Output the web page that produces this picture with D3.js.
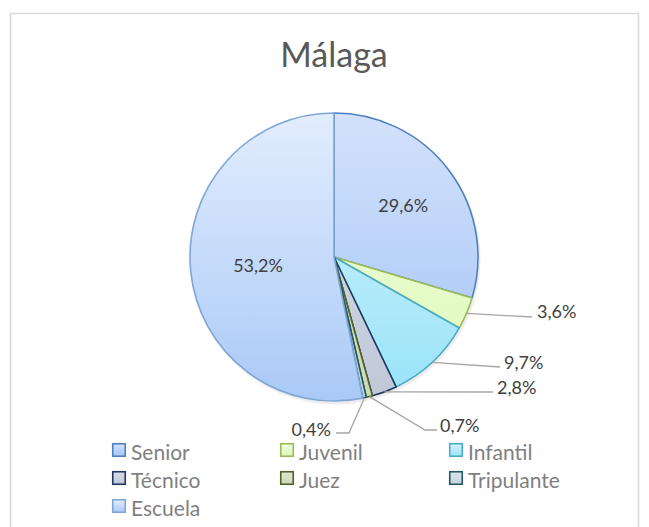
<!DOCTYPE html>
<html><head><meta charset="utf-8">
<script src="https://cdn.jsdelivr.net/npm/d3@7"></script>
<style>body{margin:0;background:#fff}svg{display:block}</style>
</head><body>
<svg id="c" width="649" height="527"></svg>
<script>
const title = "Málaga";
const categories = ["Senior","Juvenil","Infantil","Técnico","Juez","Tripulante","Escuela"];
const values = [29.6, 3.6, 9.7, 2.8, 0.7, 0.4, 53.2];
const labels = ["29,6%","3,6%","9,7%","2,8%","0,7%","0,4%","53,2%"];

const fillTop = ["#d3e2fb","#f2ffe2","#d8f4fd","#d9dee8","#e0e6d0","#d9e6ea","#e2edfd"];
const fillBot = ["#a4c3f7","#ddf8b8","#98e3f8","#c0c8d8","#cfd8b5","#c4d6dc","#aac9f7"];
const strokes = ["#4f81bd","#9bbb59","#4bacc6","#1f3864","#4f6228","#215968","#7ea6d6"];

const svg = d3.select("#c");
const cx = 334, cy = 257, R = 144;

svg.append("rect").attr("x",10.5).attr("y",13.5).attr("width",628).attr("height",530)
  .attr("fill","#fff").attr("stroke","#d9d9d9").attr("stroke-width",1.5);

svg.append("text").attr("x",cx).attr("y",67).attr("text-anchor","middle")
  .attr("font-family","Lato, 'Open Sans', sans-serif").attr("font-size",34)
  .attr("fill","#595959").text(title);

const defs = svg.append("defs");
categories.forEach((c,i)=>{
  const g = defs.append("linearGradient").attr("id","g"+i)
    .attr("gradientUnits","userSpaceOnUse")
    .attr("x1",0).attr("y1",-R).attr("x2",0).attr("y2",R);
  g.append("stop").attr("offset","0%").attr("stop-color",fillTop[i]);
  g.append("stop").attr("offset","100%").attr("stop-color",fillBot[i]);
  const l = defs.append("linearGradient").attr("id","l"+i)
    .attr("x1",0).attr("y1",0).attr("x2",0).attr("y2",1);
  l.append("stop").attr("offset","0%").attr("stop-color",fillTop[i]);
  l.append("stop").attr("offset","100%").attr("stop-color",fillBot[i]);
});

const pie = d3.pie().sort(null).value(d=>d)(values);
const arc = d3.arc().innerRadius(0).outerRadius(R);
const gp = svg.append("g").attr("transform",`translate(${cx},${cy})`);

gp.append("circle").attr("r",R+1).attr("cx",1.5).attr("cy",2.5).attr("fill","#000").attr("opacity",0.07);

gp.selectAll("path.s").data(pie).join("path").attr("class","s")
  .attr("d",arc).attr("fill",(d,i)=>`url(#g${i})`)
  .attr("stroke",(d,i)=>strokes[i]).attr("stroke-width",1.6).attr("stroke-linejoin","round");

const lblFont = "Lato, 'Open Sans', sans-serif";
const lblSize = 18;
const inside = {0:0.6, 6:0.53};
const outside = {
  1:{elbow:[532,317], end:[532,317], tx:537, ty:311, anchor:"start"},
  2:{elbow:[500,367], end:[500,367], tx:504, ty:362, anchor:"start"},
  3:{elbow:[493,392], end:[493,392], tx:497, ty:387, anchor:"start"},
  4:{elbow:[425,430], end:[437,430], tx:440, ty:425, anchor:"start"},
  5:{elbow:[349,433], end:[336,433], tx:331, ty:429, anchor:"end"}
};
pie.forEach((d,i)=>{
  const a = (d.startAngle+d.endAngle)/2;
  if (inside[i]!==undefined){
    const r = R*inside[i];
    svg.append("text").attr("x",cx+r*Math.sin(a)).attr("y",cy-r*Math.cos(a))
      .attr("text-anchor","middle").attr("dominant-baseline","central")
      .attr("font-family",lblFont).attr("font-size",lblSize).attr("fill","#404040").text(labels[i]);
  } else {
    const o = outside[i];
    const sx = cx+R*Math.sin(a), sy = cy-R*Math.cos(a);
    svg.append("polyline").attr("points",`${sx},${sy} ${o.elbow[0]},${o.elbow[1]} ${o.end[0]},${o.end[1]}`)
      .attr("fill","none").attr("stroke","#a6a6a6").attr("stroke-width",1.3);
    svg.append("text").attr("x",o.tx).attr("y",o.ty).attr("text-anchor",o.anchor)
      .attr("dominant-baseline","central")
      .attr("font-family",lblFont).attr("font-size",lblSize).attr("fill","#404040").text(labels[i]);
  }
});

const colX = [112,280,449], rowY = [450,478,506];
categories.forEach((c,i)=>{
  const x = colX[i%3], y = rowY[Math.floor(i/3)];
  svg.append("rect").attr("x",x+0.75).attr("y",y-6.25).attr("width",12.5).attr("height",12.5)
    .attr("fill",`url(#l${i})`).attr("stroke",strokes[i]).attr("stroke-width",1.6);
  svg.append("text").attr("x",x+19).attr("y",y+1).attr("dominant-baseline","central")
    .attr("font-family",lblFont).attr("font-size",21).attr("fill","#7f7f7f").text(c);
});
</script>
</body></html>
